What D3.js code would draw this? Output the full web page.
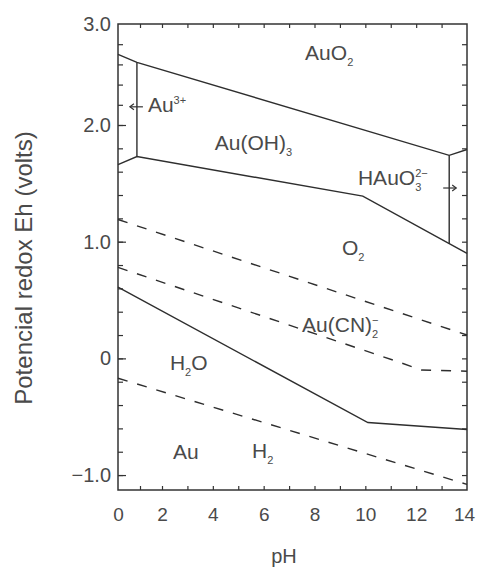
<!DOCTYPE html>
<html>
<head>
<meta charset="utf-8">
<script src="https://cdn.jsdelivr.net/npm/d3@7"></script>
<style>
body{margin:0;background:#fff;}
svg text{font-family:"Liberation Sans",Arial,sans-serif;fill:#4a4a4a;}
</style>
</head>
<body>
<svg id="chart" width="477" height="568"></svg>
<script>
// ejes: pH y potencial Eh
var phTicks = [0,2,4,6,8,10,12,14];
var ehTicks = [-1,0,1,2,3];
var ehLabels = ["\u22121.0","0","1.0","2.0","3.0"];

// limites de estabilidad, pares [pH, Eh]
var auO2Top    = [[0,2.70],[0.86,2.62],[13.3,1.74],[14,1.79]];
var au3Border  = [[0.86,2.62],[0.86,1.73]];
var auOH3Low   = [[0,1.66],[0.86,1.73],[9.9,1.39],[14,0.90]];
var hauo3Border= [[13.3,1.74],[13.3,0.98]];
var o2Line     = [[0,1.19],[14,0.20]];
var auCNLine   = [[0,0.78],[11.3,-0.03],[12.2,-0.10],[14,-0.11]];
var auLine     = [[0,0.61],[10.1,-0.55],[14,-0.61]];
var h2Line     = [[0,-0.17],[14,-1.08]];

// etiquetas de zona: texto normal / sub / sup
var zoneNames = [
  {ph:7.63, eh:2.64, parts:[["AuO",0],["2",1]]},
  {ph:1.36, eh:2.13, parts:[["Au",0],["3+",2]]},
  {ph:4.08, eh:1.79, parts:[["Au(OH)",0],["3",1]]},
  {ph:9.71, eh:1.49, parts:[["HAuO",0],["2\u2212",2],["3",3]]},
  {ph:9.08, eh:0.886, parts:[["O",0],["2",1]]},
  {ph:7.51, eh:0.226, parts:[["Au(CN)",0],["\u2212",2],["2",3]]},
  {ph:2.31, eh:-0.10, parts:[["H",0],["2",1],["O",0]]},
  {ph:2.43, eh:-0.863, parts:[["Au",0]]},
  {ph:5.54, eh:-0.854, parts:[["H",0],["2",1]]}
];
// flechas [pH, Eh, sentido]
var arrows = [[0.86,2.18,-1],[13.3,1.46,1]];

var margin = {top:24, right:10, bottom:78, left:118};
var width = 477 - margin.left - margin.right,
    height = 568 - margin.top - margin.bottom;

// la figura escaneada no es del todo lineal
var x = d3.scaleLinear().domain([0,2,14]).range([0,44,width]);
var y = d3.scaleLinear().domain([-1.128,2,3]).range([height,101,0]);

var svg = d3.select("#chart");
var g = svg.append("g").attr("transform","translate("+margin.left+","+margin.top+")");

var phMinor = d3.range(1,14);
var ehMinor = d3.range(-5,15).map(function(d){ return d/5; });

function noDomain(s){ s.select(".domain").remove(); }

g.append("g").call(d3.axisLeft(y).tickValues(ehMinor).tickSize(-5).tickFormat("")).call(noDomain);
g.append("g").call(d3.axisLeft(y).tickValues([-1,0,1,2]).tickSize(-8).tickFormat("")).call(noDomain);
g.append("g").attr("transform","translate("+width+",0)")
  .call(d3.axisRight(y).tickValues(ehMinor).tickSize(-5).tickFormat("")).call(noDomain);
g.append("g").call(d3.axisTop(x).tickValues(phMinor).tickSize(-4).tickFormat("")).call(noDomain);
g.append("g").attr("transform","translate(0,"+height+")")
  .call(d3.axisBottom(x).tickValues(phMinor).tickSize(-4).tickFormat("")).call(noDomain);
g.selectAll(".tick line").attr("stroke","#333").attr("stroke-width",1.2);

// numeros de los ejes
var yl = g.append("g")
  .call(d3.axisLeft(y).tickValues(ehTicks).tickSize(0).tickPadding(7)
    .tickFormat(function(d,i){ return ehLabels[i]; }))
  .call(noDomain);
var xl = g.append("g").attr("transform","translate(0,"+height+")")
  .call(d3.axisBottom(x).tickValues(phTicks).tickSize(0).tickPadding(18))
  .call(noDomain);
yl.attr("font-family",null).selectAll("text").attr("font-size",20).style("fill","#4a4a4a");
xl.attr("font-family",null).selectAll("text").attr("font-size",19).style("fill","#4a4a4a");
// el 14 queda pegado al borde derecho
xl.selectAll(".tick text").filter(function(d){ return d===14; }).attr("dx",-3);

g.append("rect").attr("width",width).attr("height",height)
  .attr("fill","none").attr("stroke","#333").attr("stroke-width",1.5);

var line = d3.line().x(function(d){ return x(d[0]); }).y(function(d){ return y(d[1]); });

[auO2Top, au3Border, auOH3Low, hauo3Border, auLine].forEach(function(d){
  g.append("path").datum(d).attr("d",line)
    .attr("fill","none").attr("stroke","#2e2e2e").attr("stroke-width",1.4);
});
[o2Line, auCNLine, h2Line].forEach(function(d){
  g.append("path").datum(d).attr("d",line)
    .attr("fill","none").attr("stroke","#2e2e2e").attr("stroke-width",1.4)
    .attr("stroke-dasharray","10,10");
});

// flechas
arrows.forEach(function(a){
  var cx = x(a[0]), cy = y(a[1]), s = a[2];
  g.append("line").attr("x1",cx-6*s).attr("x2",cx+7*s).attr("y1",cy).attr("y2",cy)
    .attr("stroke","#333").attr("stroke-width",1.2);
  g.append("path")
    .attr("d","M"+(cx+3*s)+","+(cy-3)+"L"+(cx+7*s)+","+cy+"L"+(cx+3*s)+","+(cy+3))
    .attr("fill","none").attr("stroke","#333").attr("stroke-width",1.2);
});

// etiquetas de zona
zoneNames.forEach(function(z){
  var t = g.append("text").attr("x",x(z.ph)).attr("y",y(z.eh)).attr("font-size",21);
  var shift = 0, lastSup = null;
  z.parts.forEach(function(p){
    var ts = t.append("tspan").text(p[0]);
    if(p[1]===0){
      ts.attr("dy",-shift); shift = 0;
    } else if(p[1]===1){
      ts.attr("font-size",11).attr("dy",6-shift); shift = 6;
    } else if(p[1]===2){
      ts.attr("font-size",11).attr("dy",-8-shift); shift = -8;
      lastSup = ts;
    } else {
      var w = lastSup.node().getComputedTextLength();
      ts.attr("font-size",11).attr("dx",-w).attr("dy",14); shift = 6;
    }
  });
});

// titulos
svg.append("text").attr("transform","translate(32,268) rotate(-90)")
  .attr("text-anchor","middle").attr("font-size",24).text("Potencial redox Eh (volts)");
svg.append("text").attr("x",284).attr("y",563)
  .attr("text-anchor","middle").attr("font-size",20).text("pH");
</script>
</body>
</html>
